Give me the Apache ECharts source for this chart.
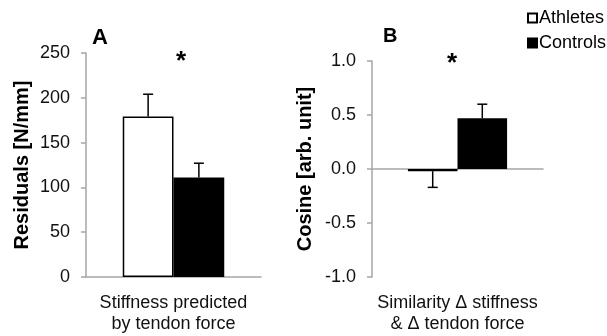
<!DOCTYPE html>
<html>
<head>
<meta charset="utf-8">
<script src="https://cdn.jsdelivr.net/npm/echarts@6/dist/echarts.min.js"></script>
<style>
html, body { margin: 0; padding: 0; background: #fff; }
#chart { width: 607px; height: 336px; }
</style>
</head>
<body>
<div id="chart"></div>
<script>
// datos de los dos paneles
var groups = ['Athletes', 'Controls'];
var catA = ['Stiffness predicted\nby tendon force'];
var catB = ['Similarity \u0394 stiffness\n& \u0394 tendon force'];
var residAthletes = [179];
var residControls = [111];
var residErrTop = [204, 127];      // extremo de la barra de error (atletas, controles)
var cosineAthletes = [-0.02];
var cosineControls = [0.47];
var cosineErrEnd = [-0.17, 0.6];
var ticksA = [0, 250, 50];
var ticksB = [-1, 1, 0.5];

var font = 'Liberation Sans, Arial, sans-serif';
var axisGray = '#a6a6a6';

var dom = document.getElementById('chart');
var myChart = echarts.init(dom, null, { renderer: 'canvas' });

function errorBar(params, api) {
    var mean = api.value(1), end = api.value(2);
    var p0 = api.coord([api.value(0), mean]);
    var p1 = api.coord([api.value(0), end]);
    var band = api.size([1, 0])[0];
    var off = band * 0.58 / 4 * (params.dataIndex === 0 ? -1 : 1);
    var x = p0[0] + off;
    var style = { stroke: '#000', lineWidth: 1.5 };
    return {
        type: 'group',
        children: [
            { type: 'line', shape: { x1: x, y1: p0[1], x2: x, y2: p1[1] }, style: style },
            { type: 'line', shape: { x1: x - 5, y1: p1[1], x2: x + 5, y2: p1[1] }, style: style }
        ]
    };
}

var yCommon = {
    type: 'value',
    nameLocation: 'middle',
    nameTextStyle: { fontFamily: font, fontSize: 20, fontWeight: 'bold', color: '#000' },
    axisLine: { show: true, lineStyle: { color: axisGray, width: 1.5 } },
    axisTick: { show: true, length: 5, lineStyle: { color: axisGray, width: 1.5 } },
    axisLabel: { fontFamily: font, fontSize: 18, color: '#111', margin: 16 },
    splitLine: { show: false }
};

var option = {
    animation: false,
    legend: {
        data: groups,
        orient: 'vertical',
        left: 522,
        top: 4,
        icon: 'rect',
        itemWidth: 9,
        itemHeight: 9,
        itemGap: 7,
        textStyle: { fontFamily: font, fontSize: 18, color: '#000', padding: [0, 0, 0, -3] },
        selectedMode: false
    },
    graphic: [
        { type: 'text', left: 92, top: 27, style: { text: 'A', font: 'bold 22px ' + font, fill: '#000' } },
        { type: 'text', left: 383, top: 26, style: { text: 'B', font: 'bold 20px ' + font, fill: '#000' } },
        { type: 'text', left: 176, top: 49, style: { text: '*', font: 'bold 26px ' + font, fill: '#000' } },
        { type: 'text', left: 447, top: 51, style: { text: '*', font: 'bold 26px ' + font, fill: '#000' } }
    ],
    grid: [
        { left: 86, top: 53, width: 175, height: 224 },
        { left: 372, top: 61, width: 171, height: 216 }
    ],
    xAxis: [
        {
            type: 'category', gridIndex: 0, data: catA,
            axisLine: { lineStyle: { color: axisGray, width: 1.5 } },
            axisTick: { length: 5, lineStyle: { color: axisGray, width: 1.5 } },
            axisLabel: { fontFamily: font, fontSize: 18, color: '#111', margin: 16, lineHeight: 21 }
        },
        {
            type: 'category', gridIndex: 1, data: catB, position: 'bottom',
            axisLine: { show: true, onZero: true, lineStyle: { color: axisGray, width: 1.5 } },
            axisTick: { length: 5, lineStyle: { color: axisGray, width: 1.5 } },
            axisLabel: { show: false }
        },
        {
            type: 'category', gridIndex: 1, data: catB, position: 'bottom',
            axisLine: { show: false, onZero: false },
            axisTick: { show: false },
            axisLabel: { fontFamily: font, fontSize: 18, color: '#111', margin: 16, lineHeight: 21 }
        }
    ],
    yAxis: [
        Object.assign({}, yCommon, {
            gridIndex: 0, name: 'Residuals [N/mm]', nameGap: 54,
            min: ticksA[0], max: ticksA[1], interval: ticksA[2]
        }),
        Object.assign({}, yCommon, {
            gridIndex: 1, name: 'Cosine [arb. unit]', nameGap: 57,
            min: ticksB[0], max: ticksB[1], interval: ticksB[2],
            axisLabel: Object.assign({}, yCommon.axisLabel, {
                formatter: function (v) { return v.toFixed(1); }
            })
        })
    ],
    series: [
        {
            name: 'Athletes', type: 'bar', xAxisIndex: 0, yAxisIndex: 0,
            data: residAthletes, barGap: 0, barCategoryGap: '42%',
            itemStyle: { color: '#fff', borderColor: '#000', borderWidth: 1.5 }
        },
        {
            name: 'Controls', type: 'bar', xAxisIndex: 0, yAxisIndex: 0,
            data: residControls, barGap: 0, barCategoryGap: '42%',
            itemStyle: { color: '#000', borderColor: '#000', borderWidth: 1.5 }
        },
        {
            type: 'custom', xAxisIndex: 0, yAxisIndex: 0, z: 5,
            renderItem: errorBar,
            data: [[0, residAthletes[0], residErrTop[0]], [0, residControls[0], residErrTop[1]]]
        },
        {
            name: 'Athletes', type: 'bar', xAxisIndex: 1, yAxisIndex: 1,
            data: cosineAthletes, barGap: 0, barCategoryGap: '42%',
            itemStyle: { color: '#fff', borderColor: '#000', borderWidth: 1.5 }
        },
        {
            name: 'Controls', type: 'bar', xAxisIndex: 1, yAxisIndex: 1,
            data: cosineControls, barGap: 0, barCategoryGap: '42%',
            itemStyle: { color: '#000', borderColor: '#000', borderWidth: 1.5 }
        },
        {
            type: 'custom', xAxisIndex: 1, yAxisIndex: 1, z: 5,
            renderItem: errorBar,
            data: [[0, cosineAthletes[0], cosineErrEnd[0]], [0, cosineControls[0], cosineErrEnd[1]]]
        }
    ]
};

myChart.setOption(option);
window.addEventListener('resize', myChart.resize);
</script>
</body>
</html>
